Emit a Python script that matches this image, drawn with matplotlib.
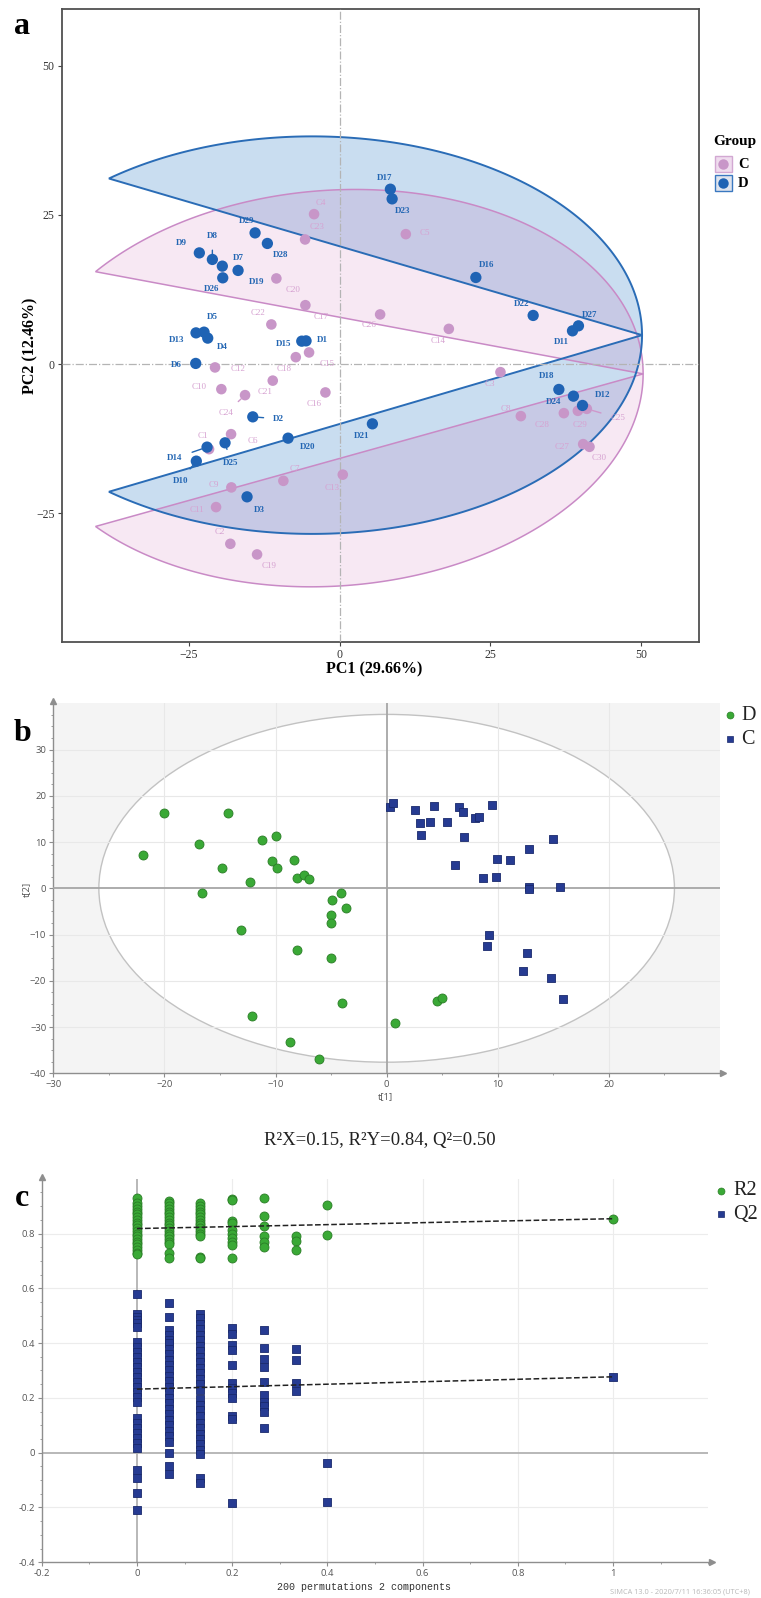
import numpy as np
import matplotlib.pyplot as plt
from matplotlib.patches import Ellipse, Polygon, Rectangle
from matplotlib.lines import Line2D
from matplotlib.ticker import MultipleLocator

plt.rcParams['font.family'] = ['Liberation Serif', 'DejaVu Serif']
SANS = ['Open Sans', 'DejaVu Sans']

# ---------------- panel a : PCA scores ----------------
c_names = ['C%d' % i for i in range(1, 31)]
pc1_c = [-21.64, -18.11, 26.67, -4.23, 10.98, -17.99, -9.32, 30.05, -17.94, -19.60,
         -20.48, -20.65, 0.53, 18.11, -5.06, -2.35, -5.67, -7.26, -13.68, -10.48,
         -11.08, -11.31, -5.72, -15.67, 40.99, 6.72, 40.38, 37.18, 39.50, 41.43]
pc2_c = [-14.24, -30.10, -1.34, 25.13, 21.78, -11.73, -19.55, -8.71, -20.65, -4.19,
         -23.95, -0.55, -18.51, 5.91, 1.96, -4.74, 9.88, 1.17, -31.88, 14.36,
         -2.76, 6.65, 20.89, -5.19, -7.49, 8.33, -13.40, -8.21, -7.82, -13.85]

d_names = ['D%d' % i for i in range(1, 30)]
pc1_d = [-5.56, -14.39, -15.34, -21.86, -22.47, -23.85, -16.83, -21.09, -23.25, -23.75,
         38.61, 40.27, -23.80, -21.97, -6.27, 22.59, 8.42, 36.35, -19.44, -8.54,
         5.44, 32.09, 8.71, 38.77, -18.99, -19.37, 39.60, -11.97, -14.01]
pc2_d = [3.90, -8.83, -22.23, 4.36, 5.36, 0.12, 15.70, 17.54, 18.64, -16.25,
         5.58, -6.92, 5.24, -13.90, 3.85, 14.52, 29.31, -4.24, 16.42, -12.40,
         -10.00, 8.16, 27.69, -5.36, -13.18, 14.46, 6.42, 20.22, 21.99]

# label placement (pixels, dx, dy-up)
c_lab_off = [(-6, 13), (-11, 12), (-11, -12), (7, 11), (19, 1), (22, -7), (12, 12), (-15, 7),
             (-18, 2), (-22, 2), (-19, -3), (23, -2), (-11, -13), (-11, -12), (18, -12),
             (-11, -12), (16, -12), (-12, -12), (12, -12), (17, -12), (-8, -11), (-13, 11),
             (12, 12), (-19, -18), (31, -9), (-11, -11), (-21, -3), (-22, -12), (2, -14),
             (10, -11)]
d_lab_off = [(16, 1), (26, -2), (12, -13), (15, -9), (8, 15), (-19, -2), (0, 12), (0, 23),
             (-18, 10), (-16, -20), (-11, -11), (20, 10), (-19, -7), (-32, -11), (-18, -3),
             (11, 12), (-6, 11), (-12, 13), (34, -16), (20, -9), (-11, -12), (-12, 11),
             (11, -12), (-20, -6), (6, -20), (-11, -11), (11, 11), (13, -12), (-8, 12)]
leaders = {'D2', 'D8', 'D10', 'D14', 'D25', 'C24', 'C25'}

# group ellipses: centre, x radius, y radius, shear, cut angle
ell_d = (-4.56, 4.86, 54.7, 33.3, 0.0, 128)
ell_c = (-1.08, -4.02, 51.4, 33.2, 0.0465, 140)

# ---------------- panel b : PLS-DA scores ----------------
t1_d = [-20.0, -14.26, -21.93, -16.9, -11.2, -9.96, -14.85, -12.3, -16.6, -10.3,
        -9.9, -8.3, -8.07, -7.4, -7.0, -13.1, -8.1, -4.08, -4.92, -3.69,
        -5.01, -4.98, -5.04, -4.02, -12.12, -8.7, -6.1, 0.75, 4.5, 5.0]
t2_d = [16.2, 16.2, 7.2, 9.6, 10.4, 11.4, 4.4, 1.37, -0.94, 5.9,
        4.4, 6.2, 2.3, 2.9, 2.1, -9.1, -13.4, -1.08, -2.6, -4.3,
        -5.7, -7.6, -15.0, -24.9, -27.7, -33.3, -36.9, -29.1, -24.4, -23.8]
t1_c = [0.33, 0.54, 2.58, 4.26, 3.0, 3.9, 5.43, 3.1, 6.5, 6.87,
        7.95, 8.3, 9.48, 6.99, 14.94, 12.84, 9.96, 11.13, 6.15, 8.64,
        9.84, 12.78, 12.78, 15.57, 9.2, 9.0, 12.6, 12.3, 14.76, 15.9]
t2_c = [17.6, 18.5, 16.9, 17.7, 14.1, 14.3, 14.3, 11.5, 17.5, 16.6,
        15.15, 15.5, 18.0, 11.1, 10.75, 8.4, 6.4, 6.06, 5.05, 2.24,
        2.38, 0.36, -0.2, 0.2, -10.1, -12.5, -13.9, -17.9, -19.5, -23.9]
hotelling = (25.9, 37.6)
stats_text = 'R\u00b2X=0.15, R\u00b2Y=0.84, Q\u00b2=0.50'

# ---------------- panel c : permutation test ----------------
r2_cols = {
    0.0: [0.93, 0.91, 0.90, 0.89, 0.88, 0.87, 0.86, 0.85, 0.84, 0.83, 0.82, 0.81, 0.80,
          0.79, 0.78, 0.77, 0.76, 0.75, 0.74, 0.73, 0.725],
    0.0667: [0.92, 0.91, 0.90, 0.89, 0.88, 0.87, 0.86, 0.85, 0.84, 0.83, 0.82, 0.81, 0.80,
             0.79, 0.78, 0.77, 0.76, 0.73, 0.71],
    0.1333: [0.91, 0.90, 0.89, 0.88, 0.87, 0.86, 0.85, 0.84, 0.83, 0.82, 0.81, 0.80, 0.79,
             0.715, 0.71],
    0.2: [0.925, 0.922, 0.845, 0.84, 0.813, 0.80, 0.782, 0.77, 0.758, 0.712],
    0.2667: [0.928, 0.864, 0.827, 0.79, 0.77, 0.752],
    0.3333: [0.79, 0.774, 0.74],
    0.4: [0.904, 0.794],
    1.0: [0.854],
}
q2_cols = {
    0.0: [0.578, 0.508, 0.496, 0.484, 0.472, 0.460, 0.405, 0.387, 0.369, 0.350, 0.332,
          0.314, 0.296, 0.277, 0.259, 0.241, 0.223, 0.204, 0.186, 0.125, 0.107, 0.089,
          0.071, 0.052, 0.034, 0.016, -0.063, -0.094, -0.148, -0.209],
    0.0667: [0.545, 0.494, 0.448, 0.430, 0.412, 0.399, 0.38, 0.36, 0.34, 0.32, 0.30, 0.28,
             0.26, 0.24, 0.22, 0.20, 0.18, 0.16, 0.14, 0.12, 0.10, 0.08, 0.06, 0.04, 0.0,
             -0.049, -0.079],
    0.1333: [0.508, 0.49, 0.47, 0.45, 0.43, 0.41, 0.39, 0.37, 0.35, 0.33, 0.31, 0.29, 0.27,
             0.25, 0.23, 0.195, 0.175, 0.155, 0.135, 0.11, 0.09, 0.07, 0.05, 0.03, 0.01,
             -0.005, -0.094, -0.112],
    0.2: [0.454, 0.433, 0.393, 0.375, 0.32, 0.255, 0.237, 0.219, 0.198, 0.134, 0.122, -0.185],
    0.2667: [0.448, 0.383, 0.342, 0.314, 0.259, 0.21, 0.186, 0.17, 0.15, 0.091],
    0.3333: [0.378, 0.337, 0.253, 0.226],
    0.4: [-0.036, -0.179],
    1.0: [0.277],
}
r2_line = [0.818, 0.854]
q2_line = [0.232, 0.277]

W, H = 761, 1598
fig = plt.figure(figsize=(W / 100, H / 100), dpi=100)


def fx(px):
    return px / W


def fy(py):
    return 1 - py / H


# ======================= panel a =======================
ax = fig.add_axes([fx(61.5), fy(641.7), fx(698.5) - fx(61.5), fy(9) - fy(641.7)])
ax.set_xlim(-46.1, 59.5)
ax.set_ylim(-46.5, 59.5)


def ellipse_pieces(cx, cy, rx, ry, k, cut):
    t_up = np.radians(np.linspace(0, cut, 150))
    t_lo = np.radians(np.linspace(360 - cut, 360, 150))
    out = []
    for t in (t_up, t_lo):
        x = cx + rx * np.cos(t)
        y = cy + k * rx * np.cos(t) + ry * np.sin(t)
        out.append(np.column_stack([x, y]))
    return out


blue_pieces = ellipse_pieces(*ell_d)
pink_pieces = ellipse_pieces(*ell_c)
for p in blue_pieces:
    ax.add_patch(Polygon(p, closed=True, facecolor='#c9ddf0', edgecolor='none', zorder=1))
for p in pink_pieces:
    ax.add_patch(Polygon(p, closed=True, facecolor='#bc2f93', alpha=0.11, edgecolor='none', zorder=2))
for p in pink_pieces:
    ax.add_patch(Polygon(p, closed=True, fill=False, edgecolor='#c98ac6', lw=1.1, zorder=3))
for p in blue_pieces:
    ax.add_patch(Polygon(p, closed=True, fill=False, edgecolor='#2a6cb6', lw=1.4, zorder=4))

ax.axhline(0, color='#b4b4b4', ls='-.', lw=0.9, zorder=5)
ax.axvline(0, color='#b4b4b4', ls='-.', lw=0.9, zorder=5)

ax.scatter(pc1_c, pc2_c, s=58, color='#c896c8', edgecolor='none', zorder=6)
ax.scatter(pc1_d, pc2_d, s=66, color='#1f63b4', edgecolor='none', zorder=7)

for name, x, y, off in zip(c_names, pc1_c, pc2_c, c_lab_off):
    kw = {}
    if name in leaders:
        kw['arrowprops'] = dict(arrowstyle='-', color='#cf98cb', lw=1, shrinkA=5, shrinkB=4)
    ax.annotate(name, (x, y), xytext=off, textcoords='offset pixels', ha='center',
                va='center', fontsize=6.5, color='#d6a2d1', zorder=8, **kw)
for name, x, y, off in zip(d_names, pc1_d, pc2_d, d_lab_off):
    kw = {}
    if name in leaders:
        kw['arrowprops'] = dict(arrowstyle='-', color='#2166b3', lw=1, shrinkA=5, shrinkB=4)
    ax.annotate(name, (x, y), xytext=off, textcoords='offset pixels', ha='center',
                va='center', fontsize=6.5, fontweight='bold', color='#2366b3', zorder=8, **kw)

ax.set_xticks([-25, 0, 25, 50])
ax.set_yticks([-25, 0, 25, 50])
ax.tick_params(direction='out', length=3, width=0.8, color='#444444', labelsize=8.5,
               labelcolor='#333333', pad=2)
for s in ax.spines.values():
    s.set_color('#505050')
    s.set_linewidth(1.3)

fig.text(fx(374), fy(669), 'PC1 (29.66%)', fontsize=11.5, fontweight='bold', ha='center', va='center')
fig.text(fx(30.5), fy(346), 'PC2 (12.46%)', fontsize=11.5, fontweight='bold', ha='center',
         va='center', rotation=90)

# group legend
fig.text(fx(735), fy(141.7), 'Group', fontsize=11, fontweight='bold', ha='center', va='center')
for yy, lab, fc, ec, mc in [(164.3, 'C', '#efdcee', '#d2a8d2', '#c896c8'),
                            (183.3, 'D', '#dfe4ee', '#3a78c0', '#1f63b4')]:
    fig.add_artist(Rectangle((fx(715), fy(yy + 8)), fx(16.5), 16.5 / H, transform=fig.transFigure,
                             facecolor=fc, edgecolor=ec, lw=1))
    fig.add_artist(Line2D([fx(723.3)], [fy(yy)], marker='o', ms=7.5, color=mc, mec='none',
                          transform=fig.transFigure))
    fig.text(fx(743.5), fy(yy), lab, fontsize=10.5, fontweight='bold', ha='center', va='center')

fig.text(fx(22), fy(27), 'a', fontsize=23, fontweight='bold', ha='center', va='center')

# ======================= panel b =======================
GRAY = '#8e8e8e'
axb = fig.add_axes([fx(53.3), fy(1073.3), fx(720) - fx(53.3), fy(703.3) - fy(1073.3)])
axb.set_xlim(-30, 30)
axb.set_ylim(-40, 40)
axb.set_facecolor('#f4f4f4')
axb.add_patch(Ellipse((0, 0), 2 * hotelling[0], 2 * hotelling[1], facecolor='white',
                      edgecolor='#c2c2c2', lw=1, zorder=1))
for xv in [-20, -10, 10, 20]:
    axb.axvline(xv, color='#e8e8e8', lw=0.8, zorder=2)
for yv in [-30, -20, -10, 10, 20, 30]:
    axb.axhline(yv, color='#e8e8e8', lw=0.8, zorder=2)
axb.axhline(0, color='#a6a6a6', lw=1.3, zorder=3)
axb.axvline(0, color='#a6a6a6', lw=1.3, zorder=3)
axb.scatter(t1_d, t2_d, s=42, marker='o', color='#3aa936', edgecolor='#2a7d26', lw=0.6, zorder=5)
axb.scatter(t1_c, t2_c, s=40, marker='s', color='#263b92', edgecolor='#1a2a6c', lw=0.6, zorder=5)

axb.set_xticks([-30, -20, -10, 0, 10, 20])
axb.set_yticks([-40, -30, -20, -10, 0, 10, 20, 30])
axb.xaxis.set_minor_locator(MultipleLocator(5))
axb.yaxis.set_minor_locator(MultipleLocator(2.5))

# ======================= panel c =======================
axc = fig.add_axes([fx(41.7), fy(1562.3), fx(708.3) - fx(41.7), fy(1178.7) - fy(1562.3)])
axc.set_xlim(-0.2, 1.2)
axc.set_ylim(-0.4, 1.0)
for xv in [0.2, 0.4, 0.6, 0.8, 1.0]:
    axc.axvline(xv, color='#ececec', lw=0.8, zorder=1)
for yv in [-0.2, 0.2, 0.4, 0.6, 0.8]:
    axc.axhline(yv, color='#ececec', lw=0.8, zorder=1)
axc.axhline(0, color='#b2b2b2', lw=1.3, zorder=2)
axc.axvline(0, color='#b2b2b2', lw=1.3, zorder=2)
for xv, vals in r2_cols.items():
    axc.scatter([xv] * len(vals), vals, s=42, marker='o', color='#3aa936', edgecolor='#2a7d26',
                lw=0.6, zorder=4)
for xv, vals in q2_cols.items():
    axc.scatter([xv] * len(vals), vals, s=40, marker='s', color='#263b92', edgecolor='#1a2a6c',
                lw=0.6, zorder=4)
axc.plot([0, 1], r2_line, ls='--', color='#222222', lw=1.1, zorder=5)
axc.plot([0, 1], q2_line, ls='--', color='#222222', lw=1.1, zorder=5)
axc.set_xticks([-0.2, 0, 0.2, 0.4, 0.6, 0.8, 1])
axc.set_xticklabels(['-0.2', '0', '0.2', '0.4', '0.6', '0.8', '1'])
axc.set_yticks([-0.4, -0.2, 0, 0.2, 0.4, 0.6, 0.8])
axc.set_yticklabels(['-0.4', '-0.2', '0', '0.2', '0.4', '0.6', '0.8'])
axc.xaxis.set_minor_locator(MultipleLocator(0.1))
axc.yaxis.set_minor_locator(MultipleLocator(0.05))

for a in (axb, axc):
    a.spines['top'].set_visible(False)
    a.spines['right'].set_visible(False)
    for s in ('left', 'bottom'):
        a.spines[s].set_color(GRAY)
        a.spines[s].set_linewidth(1)
    a.tick_params(which='major', direction='out', length=3, width=0.8, color=GRAY,
                  labelsize=6.8, labelcolor='#555555', pad=2)
    a.tick_params(which='minor', direction='out', length=1.5, width=0.6, color=GRAY)
    for lab in a.get_xticklabels() + a.get_yticklabels():
        lab.set_family(SANS)
    a.plot(0, 1.005, marker='^', ms=4, color=GRAY, transform=a.transAxes, clip_on=False)
    a.plot(1.005, 0, marker='>', ms=4, color=GRAY, transform=a.transAxes, clip_on=False)

fig.text(fx(26.7), fy(889), 't[2]', fontsize=6.8, color='#555555', family=SANS, rotation=90,
         ha='center', va='center')
fig.text(fx(385), fy(1097), 't[1]', fontsize=6.8, color='#555555', family=SANS,
         ha='center', va='center')
fig.text(fx(22.7), fy(733.3), 'b', fontsize=23, fontweight='bold', ha='center', va='center')

# panel b legend
fig.add_artist(Line2D([fx(730)], [fy(715)], marker='o', ms=5, color='#3aa936', mec='#2a7d26',
                      mew=0.5, transform=fig.transFigure))
fig.add_artist(Line2D([fx(730)], [fy(739.3)], marker='s', ms=4.5, color='#263b92', mec='#1a2a6c',
                      mew=0.5, transform=fig.transFigure))
fig.text(fx(741), fy(715), 'D', fontsize=14.5, ha='left', va='center', color='#222222')
fig.text(fx(741), fy(739.3), 'C', fontsize=14.5, ha='left', va='center', color='#222222')

fig.text(fx(380), fy(1141), stats_text, fontsize=13.5, ha='center', va='center', color='#222222')

fig.text(fx(21.7), fy(1198.3), 'c', fontsize=23, fontweight='bold', ha='center', va='center')
fig.add_artist(Line2D([fx(720.7)], [fy(1190.7)], marker='o', ms=5, color='#3aa936', mec='#2a7d26',
                      mew=0.5, transform=fig.transFigure))
fig.add_artist(Line2D([fx(720.7)], [fy(1214)], marker='s', ms=4.5, color='#263b92', mec='#1a2a6c',
                      mew=0.5, transform=fig.transFigure))
fig.text(fx(733), fy(1190.7), 'R2', fontsize=14.5, ha='left', va='center', color='#222222')
fig.text(fx(733), fy(1214), 'Q2', fontsize=14.5, ha='left', va='center', color='#222222')

fig.text(fx(364), fy(1586.7), '200 permutations 2 components', fontsize=7.2,
         family=['Liberation Mono', 'DejaVu Sans Mono'], color='#333333', ha='center', va='center')
fig.text(fx(610), fy(1591.7), 'SIMCA 13.0 - 2020/7/11 16:36:05 (UTC+8)', fontsize=5.3,
         family=SANS, color='#b8b8b8', ha='left', va='center')

fig.savefig('out.png', dpi=100)
